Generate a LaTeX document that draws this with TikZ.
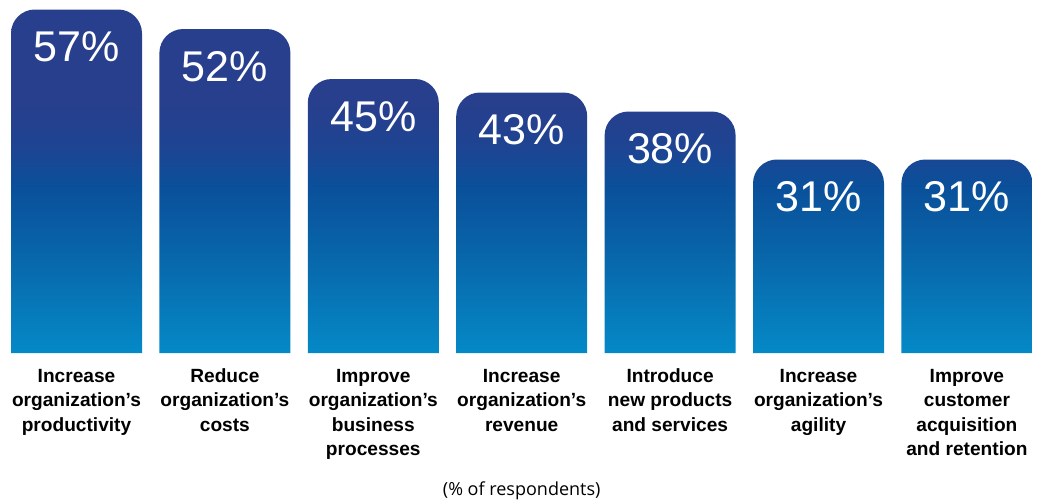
\documentclass[tikz,border=0pt]{standalone}
\usepackage{fontspec}
\setmainfont{Liberation Sans}
\newfontfamily\notefont{Open Sans}
\usetikzlibrary{shadings}
\definecolor{barlight}{RGB}{5,137,199}
\definecolor{barmid}{RGB}{8,100,168}
\definecolor{bardeep}{RGB}{10,80,155}
\definecolor{barblend}{RGB}{30,68,146}
\definecolor{barnavy}{RGB}{39,63,141}
% one fade for all bars: 25bp = bottom of bars, 75bp = top of tallest bar
\pgfdeclareverticalshading{barfade}{100bp}{color(0bp)=(barlight); color(25bp)=(barlight);
	color(40bp)=(barmid); color(49bp)=(bardeep); color(55bp)=(barblend);
	color(61bp)=(barnavy); color(100bp)=(barnavy)}
\tikzset{
	pct/.style = {anchor=base, inner sep=0pt, white,
		font=\fontsize{30.6}{34}\selectfont},% value on top of a bar
	lbl/.style = {anchor=north, align=center, inner sep=0pt,
		font=\fontsize{13.6}{17.4}\selectfont\bfseries},% text under a bar
	note/.style = {anchor=base, inner sep=0pt, font=\notefont\fontsize{12.8}{15}\selectfont}
}
\begin{document}
\begin{tikzpicture}[x=0.025cm,y=-0.025cm]
	\useasboundingbox (0,0) rectangle (1044,501);
	% bars, clipped together so the fade runs over the whole chart
	\begin{scope}
		\path[clip] foreach \i/\t in {0/9.5,1/29,2/79,3/92.5,4/111.5,5/159.5,6/159.5}{
			(11+148.4*\i,353) [rounded corners=17pt] -- (11+148.4*\i,\t)
			-- (142+148.4*\i,\t) [sharp corners] -- (142+148.4*\i,353) -- cycle};
		\shade[shading=barfade] (0,9) rectangle (1044,353);
	\end{scope}
	\foreach \i/\t/\v in {0/9.5/57,1/29/52,2/79/45,3/92.5/43,4/111.5/38,5/159.5/31,6/159.5/31}
		\node[pct] (pct\i) at (76.5+148.4*\i,\t+52) {\v\%};
	% \strut on the first line keeps all first baselines level
	\node[lbl] (lab0) at (76.5,365) {\strut Increase\\organization’s\\productivity};
	\node[lbl] (lab1) at (224.9,365) {\strut Reduce\\organization’s\\costs};
	\node[lbl] (lab2) at (373.3,365) {\strut Improve\\organization’s\\business\\processes};
	\node[lbl] (lab3) at (521.7,365) {\strut Increase\\organization’s\\revenue};
	\node[lbl] (lab4) at (670.1,365) {\strut Introduce\\new products\\and services};
	\node[lbl] (lab5) at (818.5,365) {\strut Increase\\organization’s\\agility};
	\node[lbl] (lab6) at (966.9,365) {\strut Improve\\customer\\acquisition\\and retention};
	\node[note] (resp) at (521.7,495) {(\% of respondents)};
\end{tikzpicture}
\end{document}
